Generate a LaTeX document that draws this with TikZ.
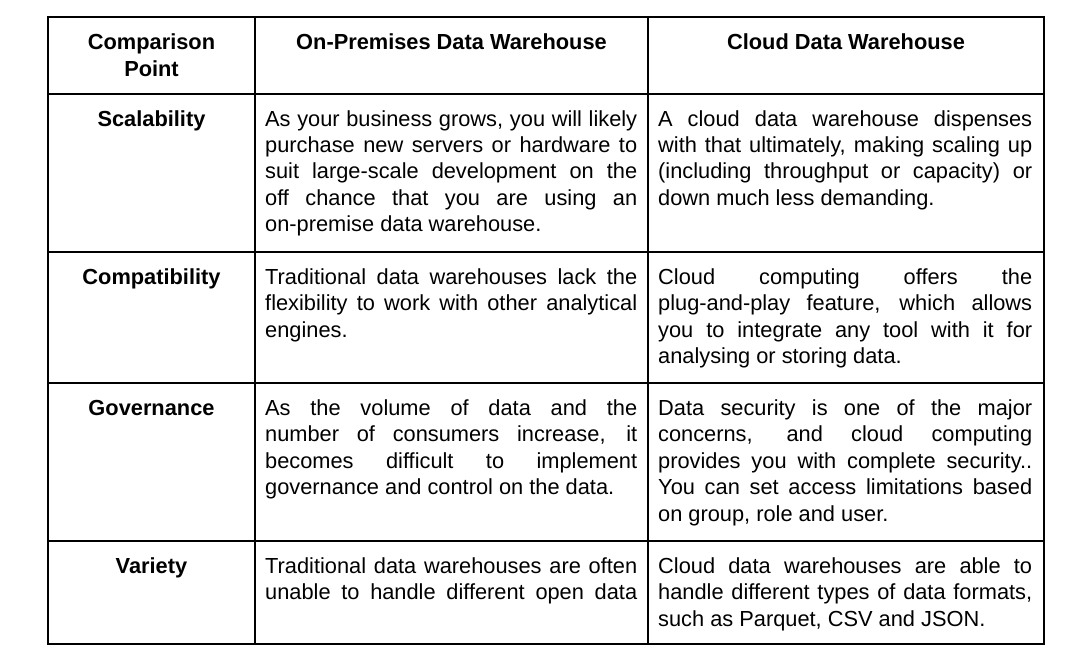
\documentclass[tikz,border=0pt]{standalone}
\usepackage{fontspec}
\setmainfont{Liberation Sans}
\usepackage{tikz}
\tolerance=10000
\hbadness=10000
\hyphenpenalty=10000
\exhyphenpenalty=10000
\tikzset{
	cellfont/.style={font=\fontsize{21.8}{26.5}\selectfont},
	headcell/.style={cellfont, font=\fontsize{21.8}{26.5}\selectfont\bfseries, anchor=base, inner sep=0pt, align=center},
	pointcell/.style={headcell, text width=200pt},
	bodycell/.style={cellfont, anchor=base west, inner sep=0pt, align=justify}
}

\begin{document}
\begin{tikzpicture}[x=1pt, y=-1pt]
	%%%%% START %%%%%
	\useasboundingbox (0, 0) rectangle (1088, 661);
	
	% grid
	\draw[line width=1.2pt] (48, 17) rectangle (1044, 644);
	\draw[line width=1.2pt] (255, 17) -- (255, 644);
	\draw[line width=1.2pt] (648, 17) -- (648, 644);
	\foreach \y in {94, 252, 383, 541}
		\draw[line width=1.2pt] (48, \y) -- (1044, \y);
	
	% header
	\node[pointcell] (comp) at (151.5, 50) {Comparison\\Point};
	\node[headcell] (prem) at (451.5, 50) {On-Premises Data Warehouse};
	\node[headcell] (cloud) at (846, 50) {Cloud Data Warehouse};
	
	% scalability
	\node[pointcell] (scal) at (151.5, 126) {Scalability};
	\node[bodycell, text width=372pt] (scalprem) at (265, 126) {As your business grows, you will likely\linebreak purchase new servers or hardware to\linebreak suit large-scale development on the\linebreak off chance that you are using an\linebreak on-premise data warehouse.};
	\node[bodycell, text width=374pt] (scalcloud) at (658, 126) {A cloud data warehouse dispenses\linebreak with that ultimately, making scaling up\linebreak (including throughput or capacity) or\linebreak down much less demanding.};
	
	% compatibility
	\node[pointcell] (compat) at (151.5, 284) {Compatibility};
	\node[bodycell, text width=372pt] (compatprem) at (265, 284) {Traditional data warehouses lack the\linebreak flexibility to work with other analytical\linebreak engines.};
	\node[bodycell, text width=374pt] (compatcloud) at (658, 284) {Cloud computing offers the\linebreak plug-and-play feature, which allows\linebreak you to integrate any tool with it for\linebreak analysing or storing data.};
	
	% governance
	\node[pointcell] (gov) at (151.5, 415) {Governance};
	\node[bodycell, text width=372pt] (govprem) at (265, 415) {As the volume of data and the\linebreak number of consumers increase, it\linebreak becomes difficult to implement\linebreak governance and control on the data.};
	\node[bodycell, text width=374pt] (govcloud) at (658, 415) {Data security is one of the major\linebreak concerns, and cloud computing\linebreak provides you with complete security..\linebreak You can set access limitations based\linebreak on group, role and user.};
	
	% variety
	\node[pointcell] (var) at (151.5, 573) {Variety};
	\node[bodycell, text width=372pt] (varprem) at (265, 573) {Traditional data warehouses are often\linebreak unable to handle different open data\parfillskip=0pt\par};
	\node[bodycell, text width=374pt] (varcloud) at (658, 573) {Cloud data warehouses are able to\linebreak handle different types of data formats,\linebreak such as Parquet, CSV and JSON.};
	%%%%% END %%%%%
\end{tikzpicture}
\end{document}
